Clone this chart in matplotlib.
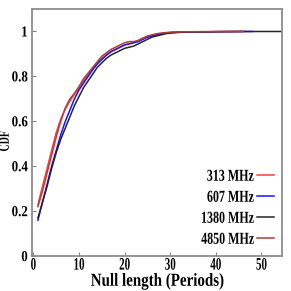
import numpy as np
import matplotlib
matplotlib.use('Agg')
import matplotlib.pyplot as plt
from matplotlib.patheffects import AbstractPathEffect
from matplotlib.transforms import Affine2D

plt.rcParams['font.family'] = ['Liberation Serif', 'DejaVu Serif']
plt.rcParams['font.weight'] = 'bold'

# null length (periods) and CDF for each frequency
x_313 = [1, 2, 3, 4, 5, 6, 7, 8, 9, 10, 11, 12, 13, 14, 15, 16, 17, 18, 19, 20,
         21, 22, 23, 24, 25, 26, 27, 28, 29, 30, 32, 35, 40, 46]
cdf_313 = [0.23, 0.31, 0.39, 0.47, 0.55, 0.61, 0.655, 0.69, 0.72, 0.75, 0.78, 0.81,
           0.835, 0.86, 0.88, 0.895, 0.91, 0.92, 0.93, 0.94, 0.945, 0.95, 0.96, 0.97,
           0.975, 0.98, 0.985, 0.99, 0.992, 0.995, 0.997, 0.998, 0.999, 1.0]

x_607 = [1, 2, 3, 4, 5, 6, 7, 8, 9, 10, 11, 12, 13, 14, 15, 16, 17, 18, 19, 20,
         21, 22, 23, 24, 25, 26, 27, 28, 29, 30, 32, 35, 40, 48]
cdf_607 = [0.16, 0.24, 0.32, 0.40, 0.47, 0.54, 0.60, 0.65, 0.70, 0.74, 0.77, 0.80,
           0.83, 0.855, 0.875, 0.895, 0.91, 0.92, 0.93, 0.94, 0.945, 0.95, 0.955, 0.965,
           0.975, 0.98, 0.985, 0.99, 0.993, 0.995, 0.997, 0.998, 0.999, 1.0]

x_1380 = [1, 2, 3, 4, 5, 6, 7, 8, 9, 10, 11, 12, 13, 14, 15, 16, 17, 18, 19, 20,
          21, 22, 23, 24, 25, 26, 27, 28, 29, 30, 32, 35, 40, 45, 50, 55]
cdf_1380 = [0.17, 0.24, 0.31, 0.39, 0.46, 0.52, 0.57, 0.62, 0.67, 0.71, 0.75, 0.78,
            0.81, 0.84, 0.86, 0.88, 0.895, 0.905, 0.915, 0.925, 0.93, 0.935, 0.945, 0.955,
            0.965, 0.975, 0.98, 0.985, 0.99, 0.993, 0.996, 0.998, 0.999, 1.0, 1.0, 1.0]

x_4850 = [1, 2, 3, 4, 5, 6, 7, 8, 9, 10, 11, 12, 13, 14, 15, 16, 17, 18, 19, 20,
          21, 22, 23, 24, 25, 26, 27, 28, 29, 30, 32, 35, 40, 46]
cdf_4850 = [0.22, 0.29, 0.37, 0.45, 0.53, 0.60, 0.66, 0.70, 0.725, 0.755, 0.79, 0.815,
            0.84, 0.865, 0.89, 0.905, 0.92, 0.93, 0.94, 0.95, 0.955, 0.955, 0.96, 0.97,
            0.98, 0.985, 0.99, 0.993, 0.995, 0.997, 0.998, 0.999, 1.0, 1.0]


class Squash(AbstractPathEffect):
    # narrow/tall glyphs, like the condensed Times of the original
    def __init__(self, sx=0.75, sy=1.15, anchor='center'):
        super().__init__()
        self.sx, self.sy, self.anchor = sx, sy, anchor

    def draw_path(self, renderer, gc, tpath, affine, rgbFace=None):
        ext = tpath.get_extents()
        cx = {'left': ext.x0, 'right': ext.x1}.get(self.anchor, (ext.x0 + ext.x1) / 2)
        cy = (ext.y0 + ext.y1) / 2
        t = Affine2D().translate(-cx, -cy).scale(self.sx, self.sy).translate(cx, cy)
        renderer.draw_path(gc, tpath, t + affine, rgbFace)


fig = plt.figure(figsize=(2.91, 2.91), dpi=100)
ax = fig.add_axes([0.110, 0.120, 0.859, 0.849])

ax.plot(x_313, cdf_313, color='#ff3b3b', lw=1.1, label='313 MHz')
ax.plot(x_607, cdf_607, color='#1414ff', lw=1.1, label='607 MHz')
ax.plot(x_1380, cdf_1380, color='#262626', lw=1.1, label='1380 MHz')
ax.plot(x_4850, cdf_4850, color='#b43c3c', lw=1.1, label='4850 MHz')

ax.set_xlim(-0.3, 54.5)
ax.set_ylim(0, 1.1)
ax.set_xticks([0, 10, 20, 30, 40, 50])
ax.set_yticks([0, 0.2, 0.4, 0.6, 0.8, 1])
ax.set_yticklabels(['0', '0.2', '0.4', '0.6', '0.8', '1'])
ax.tick_params(direction='in', length=3, width=0.8, color='#808080', labelsize=11)
ax.tick_params(axis='x', pad=2)
ax.tick_params(axis='y', pad=3)
for s in ax.spines.values():
    s.set_color('#8c8c8c')
    s.set_linewidth(1.3)

for lab in ax.get_xticklabels():
    lab.set_path_effects([Squash(0.72, 1.15)])
for lab in ax.get_yticklabels():
    lab.set_path_effects([Squash(0.85, 1.0, 'right')])

ax.set_xlabel('Null length (Periods)', fontsize=12, fontweight='bold',
              path_effects=[Squash(0.9, 1.1)])
ax.xaxis.set_label_coords(0.5, -0.07)
ax.set_ylabel('CDF', fontsize=9.5, fontweight='bold',
              path_effects=[Squash(0.75, 1.15)])
ax.yaxis.set_label_coords(-0.084, 0.465)

leg = ax.legend(loc='lower right', frameon=False, markerfirst=False, fontsize=12,
                handlelength=1.0, handletextpad=0.2, labelspacing=0.3,
                borderaxespad=0.2, borderpad=0.3)
for t in leg.get_texts():
    t.set_path_effects([Squash(0.72, 1.0, 'right')])

fig.savefig('out.png', dpi=100)
